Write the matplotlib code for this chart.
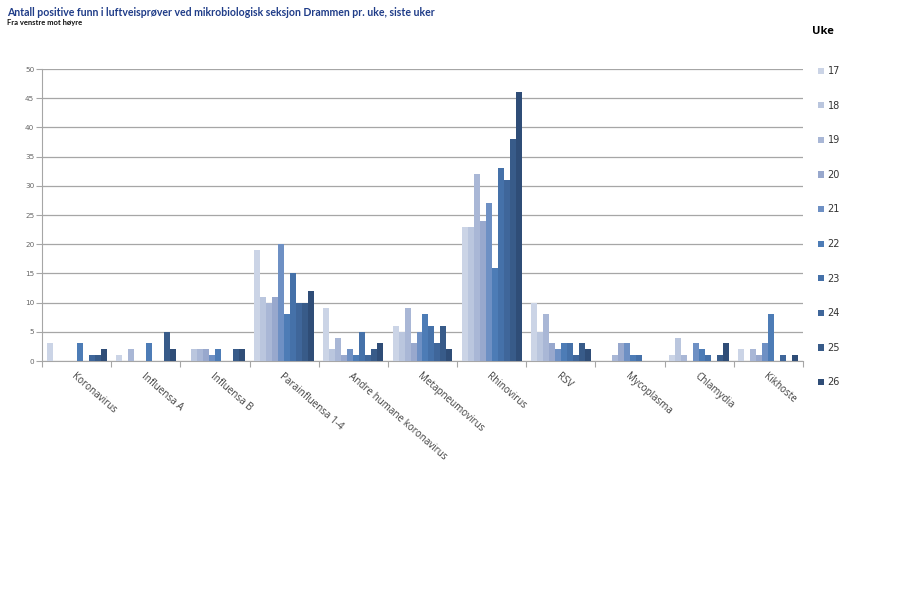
import matplotlib
matplotlib.use("Agg")
import matplotlib.pyplot as plt
import numpy as np

categories = ["Koronavirus", "Influensa A", "Influensa B", "Parainfluensa 1-4",
              "Andre humane koronavirus", "Metapneumovirus", "Rhinovirus", "RSV",
              "Mycoplasma", "Chlamydia", "Kikhoste"]
weeks = ["17", "18", "19", "20", "21", "22", "23", "24", "25", "26"]

# values per category, weeks 17..26
koronavirus = [3, 0, 0, 0, 0, 3, 0, 1, 1, 2]
influensa_a = [1, 0, 2, 0, 0, 3, 0, 0, 5, 2]
influensa_b = [0, 2, 2, 2, 1, 2, 0, 0, 2, 2]
parainfluensa = [19, 11, 10, 11, 20, 8, 15, 10, 10, 12]
andre_koronavirus = [9, 2, 4, 1, 2, 1, 5, 1, 2, 3]
metapneumovirus = [6, 5, 9, 3, 5, 8, 6, 3, 6, 2]
rhinovirus = [23, 23, 32, 24, 27, 16, 33, 31, 38, 46]
rsv = [10, 5, 8, 3, 2, 3, 3, 1, 3, 2]
mycoplasma = [0, 0, 1, 3, 3, 1, 1, 0, 0, 0]
chlamydia = [1, 4, 1, 0, 3, 2, 1, 0, 1, 3]
kikhoste = [2, 0, 2, 1, 3, 8, 0, 1, 0, 1]

data = np.array([koronavirus, influensa_a, influensa_b, parainfluensa,
                 andre_koronavirus, metapneumovirus, rhinovirus, rsv,
                 mycoplasma, chlamydia, kikhoste])

colors = ["#cbd4e6", "#bac6de", "#a9b7d6", "#98a8cd", "#6e90c4",
          "#4d7cb6", "#4571a9", "#3f669a", "#385b89", "#2f4d77"]

fig = plt.figure(figsize=(9, 6), dpi=100)
ax = fig.add_axes([42/900, 1-361/600, (803-42)/900, (361-69)/600])

n_cat = len(categories)
n_w = len(weeks)
x = np.arange(n_cat)
group_w = 0.867
bw = group_w / n_w
for i, wk in enumerate(weeks):
    ax.bar(x - group_w/2 + bw*(i+0.5), data[:, i], width=bw, color=colors[i],
           label=wk, zorder=3, linewidth=0)

ax.set_xlim(-0.5, n_cat-0.5)
ax.set_ylim(0, 50)
ax.set_yticks(np.arange(0, 51, 5))
ax.yaxis.grid(True, color="#a6a6a6", linewidth=0.9, zorder=0)
ax.tick_params(axis='y', labelsize=5.2, labelcolor="#666666", length=4,
               color="#a6a6a6", pad=1.5)
for s in ["top", "right"]:
    ax.spines[s].set_visible(False)
ax.spines["left"].set_color("#a6a6a6")
ax.spines["bottom"].set_color("#a6a6a6")

ax.set_xticks(np.arange(-0.5, n_cat, 1))
ax.set_xticklabels([])
ax.tick_params(axis='x', length=4, color="#a6a6a6")
ax.set_xticks(x, minor=True)
ax.set_xticklabels(categories, minor=True, rotation=-41, ha='left', va='top',
                   rotation_mode='anchor', fontsize=7.1, color="#404040",
                   family="Open Sans")
ax.tick_params(axis='x', which='minor', length=0, pad=7)

leg = ax.legend(loc='upper left', bbox_to_anchor=(1.008, 1.04), frameon=False,
                fontsize=7, labelspacing=2.53, handlelength=0.6,
                handleheight=0.6, handletextpad=0.4)
for t in leg.get_texts():
    t.set_color("#333333")

fig.text(812/900, 1-31/600, "Uke", fontsize=8, fontweight='bold', va='center',
         family="Open Sans")
fig.text(7/900, 1-12/600,
         "Antall positive funn i luftveisprøver ved mikrobiologisk seksjon Drammen pr. uke, siste uker",
         fontsize=7.6, fontweight='bold', color="#1f3c88", va='center', family="Lato")
fig.text(7/900, 1-23/600, "Fra venstre mot høyre", fontsize=5.5, fontweight='bold',
         color="#111111", va='center', family="Lato")

fig.savefig("out.png", dpi=100)
